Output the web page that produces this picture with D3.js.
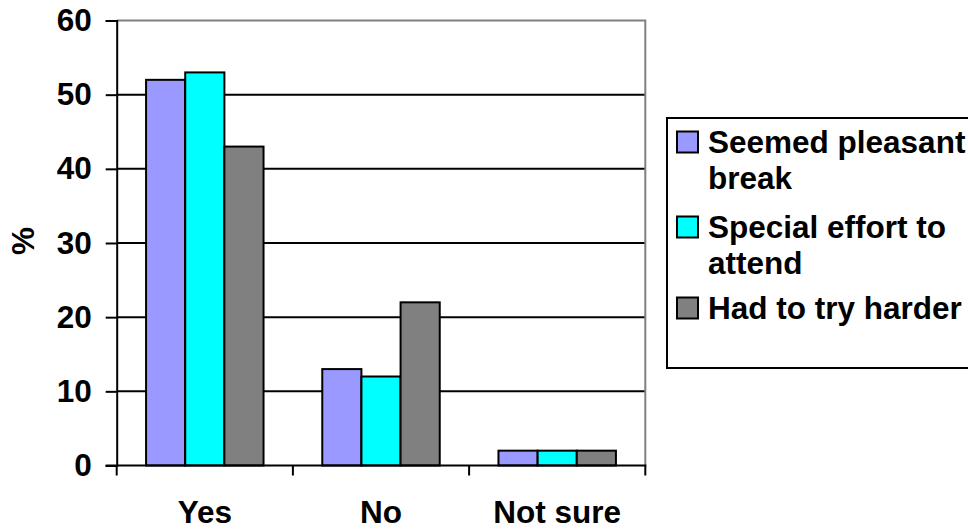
<!DOCTYPE html>
<html>
<head>
<meta charset="utf-8">
<script src="https://cdn.jsdelivr.net/npm/d3@7"></script>
<style>
  html, body { margin: 0; padding: 0; background: #fff; }
  svg { display: block; }
  text { font-family: "Liberation Sans", Arial, sans-serif; font-weight: bold; fill: #000; }
</style>
</head>
<body>
<svg id="chart" width="968" height="529"></svg>
<script>
// Survey answers (%), grouped by response
const categories = ["Yes", "No", "Not sure"];
const seriesNames = ["Seemed pleasant break", "Special effort to attend", "Had to try harder"];
const seemedPleasant = [52, 13, 2];
const specialEffort = [53, 12, 2];
const triedHarder = [43, 22, 2];
const yTicks = [0, 10, 20, 30, 40, 50, 60];
const legendLines = [["Seemed pleasant", "break"], ["Special effort to", "attend"], ["Had to try harder"]];
const colors = ["#9999FF", "#00FFFF", "#808080"];

const seriesValues = [seemedPleasant, specialEffort, triedHarder];
const FONT = "31.5px";

const svg = d3.select("#chart");
const plot = { left: 116.7, right: 645.3, top: 20.5, bottom: 465.5 };

const x0 = d3.scaleBand().domain(categories).range([plot.left, plot.right]).paddingInner(0).paddingOuter(0);
const x1 = d3.scaleBand().domain(d3.range(seriesNames.length)).range([0, x0.bandwidth()]).paddingInner(0).paddingOuter(0.75);
const y = d3.scaleLinear().domain([0, 60]).range([plot.bottom, plot.top]);

// Horizontal gridlines
svg.append("g")
  .selectAll("line")
  .data(yTicks.filter(t => t > 0 && t < 60))
  .join("line")
  .attr("x1", plot.left).attr("x2", plot.right)
  .attr("y1", d => y(d)).attr("y2", d => y(d))
  .attr("stroke", "#000").attr("stroke-width", 2);

// Plot area frame (top and right edges)
svg.append("path")
  .attr("d", `M${plot.left},${y(60)}H${plot.right}V${plot.bottom}`)
  .attr("fill", "none").attr("stroke", "#808080").attr("stroke-width", 2);

// Bars
const groups = svg.append("g")
  .selectAll("g")
  .data(categories)
  .join("g")
  .attr("transform", d => `translate(${x0(d)},0)`);

groups.selectAll("rect")
  .data((d, ci) => seriesValues.map((vals, si) => ({ si, v: vals[ci] })))
  .join("rect")
  .attr("x", d => x1(d.si))
  .attr("width", x1.bandwidth())
  .attr("y", d => y(d.v))
  .attr("height", d => y(0) - y(d.v))
  .attr("fill", d => colors[d.si])
  .attr("stroke", "#000").attr("stroke-width", 2);

// Y axis
const yAxis = svg.append("g")
  .attr("transform", `translate(${plot.left},0)`)
  .call(d3.axisLeft(y).tickValues(yTicks).tickSize(11).tickPadding(14));
yAxis.select(".domain").attr("stroke", "#000").attr("stroke-width", 2);
yAxis.selectAll(".tick line").attr("stroke", "#000").attr("stroke-width", 2);
yAxis.selectAll(".tick text")
  .style("font-family", '"Liberation Sans", Arial, sans-serif')
  .style("font-weight", "bold").style("font-size", FONT).attr("fill", "#000");

// X axis: ticks at category boundaries
const boundaries = categories.map(c => x0(c)).concat([plot.right]);
svg.append("line")
  .attr("x1", plot.left - 11).attr("x2", plot.right + 1)
  .attr("y1", plot.bottom).attr("y2", plot.bottom)
  .attr("stroke", "#000").attr("stroke-width", 2);
svg.append("g").selectAll("line")
  .data(boundaries)
  .join("line")
  .attr("x1", d => d).attr("x2", d => d)
  .attr("y1", plot.bottom).attr("y2", plot.bottom + 10)
  .attr("stroke", "#000").attr("stroke-width", 2);
svg.append("g").selectAll("text")
  .data(categories)
  .join("text")
  .attr("x", d => x0(d) + x0.bandwidth() / 2)
  .attr("y", 523)
  .attr("text-anchor", "middle")
  .style("font-size", FONT)
  .text(d => d);

// Y axis title
svg.append("text")
  .attr("transform", "translate(34,241) rotate(-90)")
  .attr("text-anchor", "middle")
  .style("font-size", FONT)
  .text("%");

// Legend
const legend = svg.append("g");
legend.append("rect")
  .attr("x", 667).attr("y", 118).attr("width", 330).attr("height", 250)
  .attr("fill", "#fff").attr("stroke", "#000").attr("stroke-width", 2);
const baselines = [152.5, 237.5, 318.5];
const lineGap = 36;
legendLines.forEach((lines, i) => {
  legend.append("rect")
    .attr("x", 677).attr("y", baselines[i] - 21).attr("width", 21).attr("height", 21)
    .attr("fill", colors[i]).attr("stroke", "#000").attr("stroke-width", 2);
  const t = legend.append("text")
    .attr("x", 708).attr("y", baselines[i])
    .style("font-size", FONT);
  lines.forEach((ln, j) => {
    t.append("tspan").attr("x", 708).attr("y", baselines[i] + j * lineGap).text(ln);
  });
});
</script>
</body>
</html>
